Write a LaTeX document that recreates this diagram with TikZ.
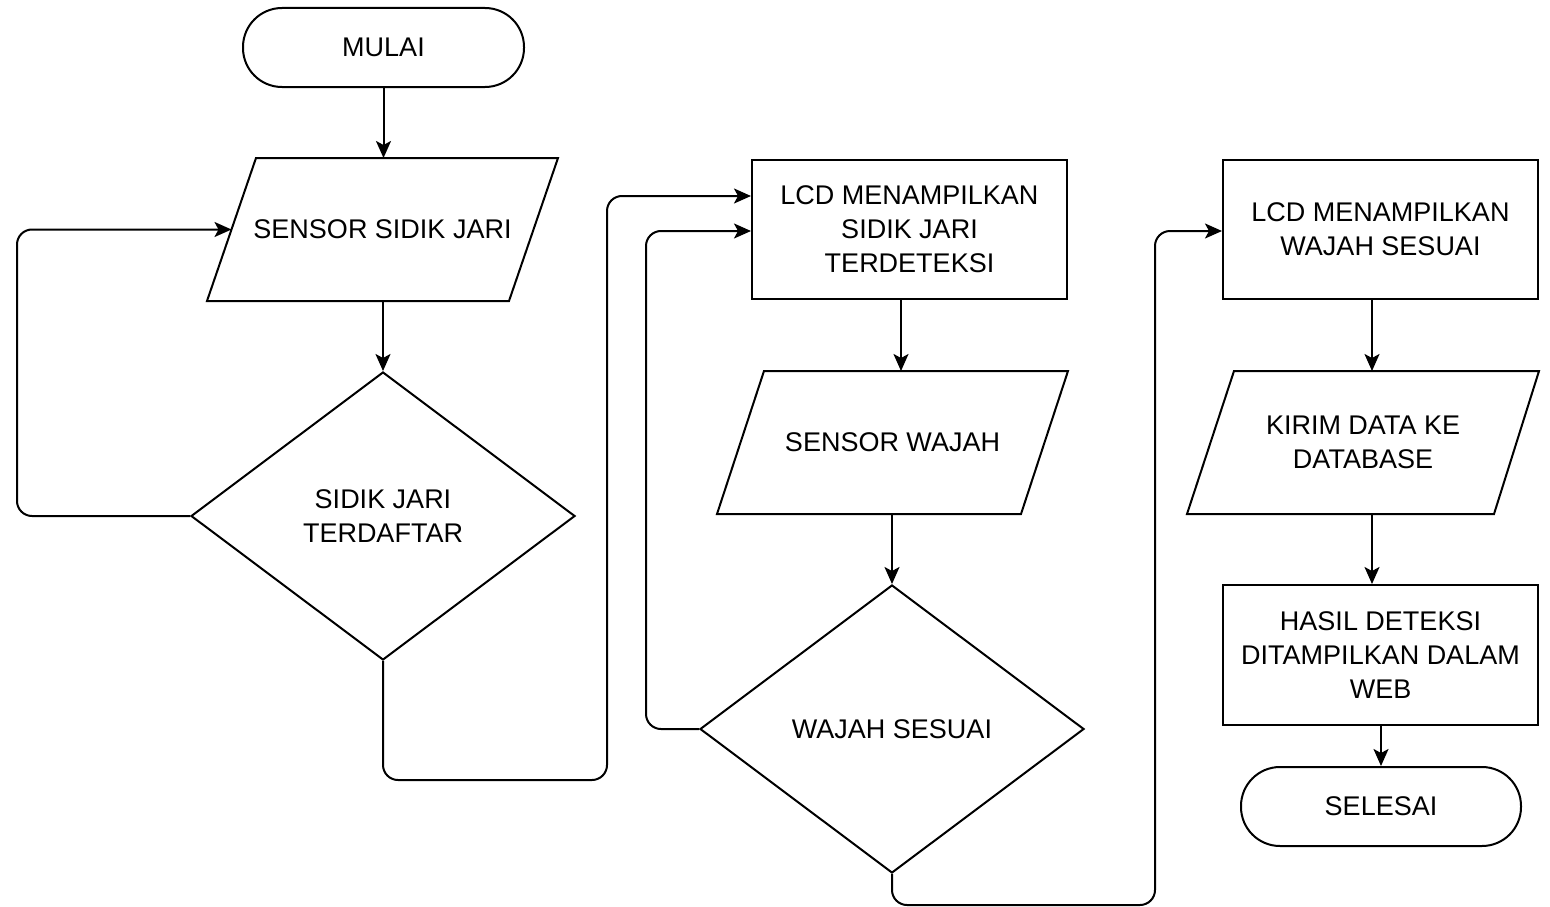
\documentclass[tikz,border=0pt]{standalone}
\usepackage{fontspec}
\setmainfont{Liberation Sans}
\usetikzlibrary{shapes.geometric,arrows.meta,calc}
\begin{document}
\begin{tikzpicture}[x=1pt,y=-1pt,
  base/.style={draw, line width=2pt, font=\fontsize{27}{34}\selectfont, align=center, inner sep=0pt},
  term/.style={base, rectangle, rounded corners=39pt, minimum width=281pt, minimum height=79pt},
  proc/.style={base, rectangle, minimum width=315pt, minimum height=139pt},
  dec/.style={base, diamond, minimum width=384pt, minimum height=288pt},
  io/.style={base, draw=none, rectangle, minimum width=349pt, minimum height=141pt},
  para/.style={line width=2pt, line join=miter},
  arr/.style={line width=2pt, -{Stealth[length=17pt,width=15pt,inset=4pt]}, rounded corners=15pt}
]
\useasboundingbox (0,0) rectangle (1550,907);

% nodes
\node[term] (m) at (383.5,47.5) {MULAI};
\node[io] (s1) at (382.5,229.5) {SENSOR SIDIK JARI};
\draw[para] (s1.south west) -- ([xshift=49pt]s1.north west) -- (s1.north east) -- ([xshift=-49pt]s1.south east) -- cycle;
\node[dec] (d1) at (383,516) {SIDIK JARI\\TERDAFTAR};

\node[proc] (b1) at (909.5,229.5) {LCD MENAMPILKAN\\SIDIK JARI\\TERDETEKSI};
\node[io] (s2) at (892.5,442.5) {SENSOR WAJAH};
\draw[para] (s2.south west) -- ([xshift=47pt]s2.north west) -- (s2.north east) -- ([xshift=-47pt]s2.south east) -- cycle;
\node[dec] (d2) at (892,729) {WAJAH SESUAI};

\node[proc] (b2) at (1380.5,229.5) {LCD MENAMPILKAN\\WAJAH SESUAI};
\node[io, minimum width=350pt] (s3) at (1363,442.5) {KIRIM DATA KE\\DATABASE};
\draw[para] (s3.south west) -- ([xshift=47pt]s3.north west) -- (s3.north east) -- ([xshift=-45pt]s3.south east) -- cycle;
\node[proc, minimum height=140pt] (b3) at (1380.5,655) {HASIL DETEKSI\\DITAMPILKAN DALAM\\WEB};
\node[term, minimum width=280pt] (e) at (1381,806.5) {SELESAI};

% bend coordinates
\coordinate (l1) at (17,229.5);
\coordinate (c2) at (607,780);
\coordinate (c3) at (607,196);
\coordinate (c4) at (646,231);
\coordinate (c5) at (1155,905);
\coordinate (c6) at (1155,231);

% connectors
\draw[arr] (m.south) -- (m.south |- s1.north);
\draw[arr] (d1.north |- s1.south) -- (d1.north);
\draw[arr] (d1.west) -| (l1) -- ([xshift=24.5pt]s1.west);
\draw[arr] (d1.south) |- (c2) -- (c3) -- (b1.west |- c3);
\draw[arr] ([xshift=-8.5pt]b1.south) -- ([xshift=-8.5pt]b1.south |- s2.north);
\draw[arr] (d2.north |- s2.south) -- (d2.north);
\draw[arr] (d2.west) -| (c4) -- (b1.west |- c4);
\draw[arr] (d2.south) |- (c5) -- (c6) -- (b2.west |- c6);
\draw[arr] ([xshift=-8.5pt]b2.south) -- ([xshift=-8.5pt]b2.south |- s3.north);
\draw[arr] ([xshift=-8.5pt]b3.north |- s3.south) -- ([xshift=-8.5pt]b3.north);
\draw[arr] (e.north |- b3.south) -- (e.north);
\end{tikzpicture}
\end{document}
